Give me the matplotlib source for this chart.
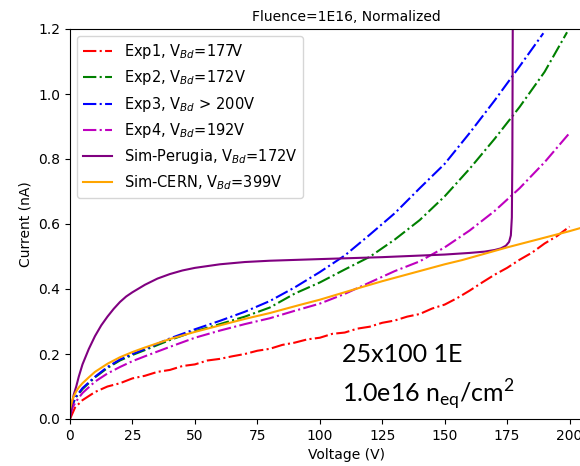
import matplotlib
matplotlib.use("Agg")
import matplotlib.pyplot as plt
import numpy as np

# ---------------------------------------------------------------
# data (voltage in V, current in nA)
# ---------------------------------------------------------------
v_exp1 = [0, 2, 5, 10, 15, 20, 25, 30, 35, 40, 45, 50, 55, 60, 65, 70, 75, 80, 85, 90, 95, 100, 105, 110,
          115, 120, 125, 130, 135, 140, 145, 150, 155, 160, 165, 170, 175, 180, 185, 190, 195, 200]
i_exp1 = [0.0, 0.035, 0.058, 0.083, 0.1, 0.11, 0.125, 0.133, 0.145, 0.151, 0.163, 0.168, 0.18, 0.185, 0.193,
          0.2, 0.21, 0.216, 0.228, 0.235, 0.245, 0.25, 0.262, 0.266, 0.278, 0.284, 0.296, 0.303, 0.315, 0.323,
          0.34, 0.352, 0.372, 0.395, 0.42, 0.444, 0.465, 0.49, 0.512, 0.54, 0.563, 0.592]

v_exp2 = [0, 1, 2.5, 5, 10, 15, 20, 25, 30, 40, 50, 60, 70, 80, 90, 100, 110, 120, 130, 140, 150, 160, 170, 180, 190, 199]
i_exp2 = [0.02, 0.045, 0.068, 0.092, 0.128, 0.157, 0.18, 0.197, 0.212, 0.243, 0.27, 0.292, 0.315, 0.343, 0.386,
          0.42, 0.46, 0.499, 0.552, 0.612, 0.685, 0.77, 0.862, 0.96, 1.068, 1.19]

v_exp3 = [0, 1, 2.5, 5, 10, 15, 20, 25, 30, 40, 50, 60, 70, 80, 90, 100, 110, 120, 130, 140, 150, 160, 170, 180, 189.5]
i_exp3 = [0.02, 0.045, 0.07, 0.095, 0.13, 0.16, 0.183, 0.2, 0.215, 0.248, 0.276, 0.302, 0.33, 0.363, 0.405,
          0.452, 0.503, 0.567, 0.633, 0.71, 0.785, 0.88, 0.98, 1.085, 1.187]

v_exp4 = [0, 1, 2.5, 5, 10, 15, 20, 25, 30, 40, 50, 60, 70, 80, 90, 100, 110, 120, 130, 140, 150, 160, 170, 180, 190, 200]
i_exp4 = [0.01, 0.035, 0.055, 0.08, 0.115, 0.14, 0.16, 0.178, 0.193, 0.222, 0.25, 0.272, 0.292, 0.31, 0.333,
          0.355, 0.385, 0.42, 0.455, 0.485, 0.528, 0.58, 0.64, 0.71, 0.79, 0.88]

v_perugia = [0, 0.5, 1, 1.5, 2.5, 3.5, 5, 7.5, 10, 12.5, 15, 17.5, 20, 22.5, 25, 30, 35, 40, 45, 50, 60, 70, 80,
             100, 125, 150, 160, 166, 170, 172.5, 174.5, 175.8, 176.5, 176.9, 177.1, 177.3]
i_perugia = [0.0, 0.03, 0.055, 0.075, 0.1, 0.13, 0.168, 0.215, 0.255, 0.288, 0.315, 0.339, 0.36, 0.377, 0.39,
             0.413, 0.432, 0.446, 0.457, 0.465, 0.476, 0.483, 0.487, 0.492, 0.498, 0.506, 0.511, 0.515, 0.52,
             0.525, 0.533, 0.545, 0.565, 0.62, 0.8, 1.3]

v_cern = [0, 0.5, 1, 1.5, 2.5, 3.5, 5, 7.5, 10, 15, 20, 25, 30, 40, 50, 60, 70, 80, 92, 100, 116.5, 125, 150, 157,
          175, 200, 205, 220]
i_cern = [0.03, 0.045, 0.06, 0.07, 0.085, 0.097, 0.11, 0.128, 0.145, 0.17, 0.19, 0.206, 0.22, 0.246, 0.268,
          0.288, 0.308, 0.326, 0.351, 0.367, 0.405, 0.424, 0.476, 0.489, 0.528, 0.578, 0.589, 0.62]

labels = [r"Exp1, V$_{Bd}$=177V", r"Exp2, V$_{Bd}$=172V", r"Exp3, V$_{Bd}$ > 200V",
          r"Exp4, V$_{Bd}$=192V", r"Sim-Perugia, V$_{Bd}$=172V", r"Sim-CERN, V$_{Bd}$=399V"]

# ---------------------------------------------------------------
# figure (axes run past the right edge, as in the cropped original)
# ---------------------------------------------------------------
fig = plt.figure(figsize=(5.8, 4.66), dpi=100)
ax = fig.add_axes([70 / 580, 47 / 466, 552 / 580, 390 / 466])

ax.plot(v_exp1, i_exp1, "-.", color="r", label=labels[0])
ax.plot(v_exp2, i_exp2, "-.", color="g", label=labels[1])
ax.plot(v_exp3, i_exp3, "-.", color="b", label=labels[2])
ax.plot(v_exp4, i_exp4, "-.", color="m", label=labels[3])
ax.plot(v_perugia, i_perugia, "-", color="purple", label=labels[4])
ax.plot(v_cern, i_cern, "-", color="orange", label=labels[5])

ax.set_xlim(0, 221)
ax.set_ylim(0, 1.2)
ax.set_xticks(np.arange(0, 201, 25))
ax.set_yticks(np.arange(0, 1.21, 0.2))
ax.set_xlabel("Voltage (V)")
ax.set_ylabel("Current (nA)")
ax.set_title("Fluence=1E16, Normalized", fontsize=10)
ax.legend(loc="upper left", fontsize=10.5)

# pasted-in annotation
ax.text(0.493, 0.145, "25x100 1E", transform=ax.transAxes, family="Lato", fontsize=18)
ax.text(0.493, 0.042, r"1.0e16 n$_\mathregular{eq}$/cm$^\mathregular{2}$", transform=ax.transAxes,
        family="Lato", fontsize=18)

fig.savefig("out.png", dpi=100)
